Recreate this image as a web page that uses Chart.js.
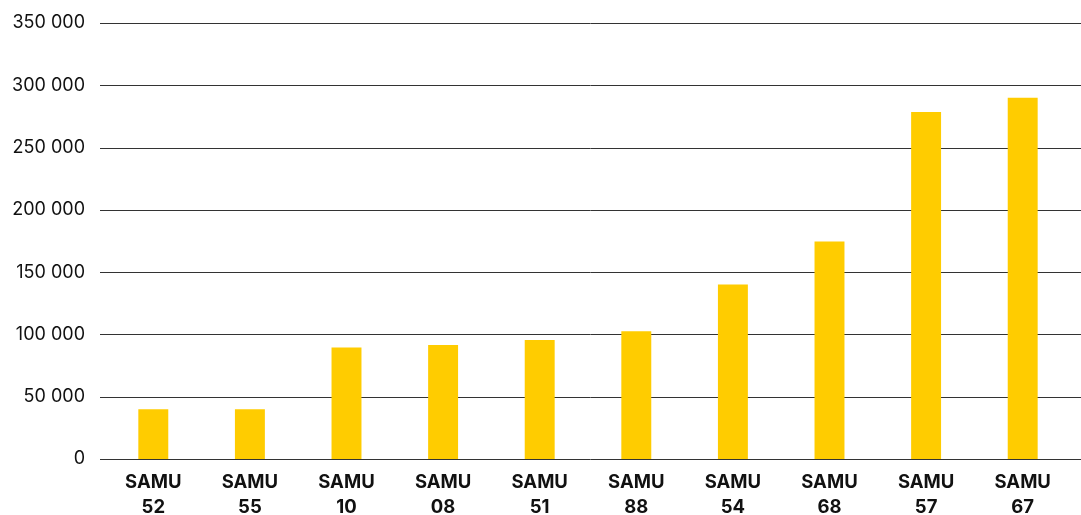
<!DOCTYPE html>
<html>
<head>
<meta charset="utf-8">
<script src="https://cdn.jsdelivr.net/npm/chart.js@4"></script>
<style>
    html, body { margin: 0; padding: 0; background: #fff; }
    #wrap { position: relative; width: 1081px; height: 515px; }
</style>
</head>
<body>
<div id="wrap"><canvas id="chartSamu"></canvas></div>
<script>
/* Données */
const samuLabels = ["52", "55", "10", "08", "51", "88", "54", "68", "57", "67"];
const samuValues = [40000, 40000, 89500, 91500, 95500, 102500, 140000, 174500, 278500, 290000];
const yTicks = [0, 50000, 100000, 150000, 200000, 250000, 300000, 350000];

function fmtNombre(v) {
    return String(v).replace(/\B(?=(\d{3})+(?!\d))/g, " ");
}

// lignes horizontales qui débordent la zone des barres (jusqu'au bord droit)
const gridPlugin = {
    id: "gridLarge",
    beforeDatasetsDraw(chart) {
        const ctx = chart.ctx;
        const y = chart.scales.y;
        ctx.save();
        ctx.strokeStyle = "#333";
        ctx.lineWidth = 1;
        yTicks.forEach(t => {
            const py = Math.round(y.getPixelForValue(t)) + 0.5;
            ctx.beginPath();
            ctx.moveTo(100, py);
            ctx.lineTo(chart.width, py);
            ctx.stroke();
        });
        ctx.restore();
    }
};

const ctx = document.getElementById("chartSamu");
new Chart(ctx, {
    type: "bar",
    data: {
        labels: samuLabels.map(n => ["SAMU", n]),
        datasets: [{
            data: samuValues,
            backgroundColor: "#ffcc00",
            barPercentage: 0.31,
            categoryPercentage: 1
        }]
    },
    options: {
        responsive: true,
        maintainAspectRatio: false,
        animation: false,
        layout: { padding: { top: 23, right: 10, left: 0, bottom: 0 } },
        plugins: { legend: { display: false }, tooltip: { enabled: false } },
        scales: {
            x: {
                afterFit(scale) { scale.height = 56; },
                grid: { display: false, drawTicks: false },
                border: { display: false },
                ticks: {
                    color: "#111",
                    padding: 11,
                    maxRotation: 0,
                    font: { family: "Inter", size: 18.5, weight: "bold", lineHeight: 1.35 }
                }
            },
            y: {
                min: 0,
                max: 350000,
                afterFit(scale) {
                    scale.width = 105;
                    scale.paddingTop = 0;
                    scale.paddingBottom = 0;
                },
                afterBuildTicks(scale) { scale.ticks = yTicks.map(v => ({ value: v })); },
                grid: { display: false, drawTicks: false },
                border: { display: false },
                ticks: {
                    color: "#111",
                    padding: 20,
                    font: { family: "Inter", size: 18 },
                    callback: v => fmtNombre(v)
                }
            }
        }
    },
    plugins: [gridPlugin]
});
</script>
</body>
</html>
